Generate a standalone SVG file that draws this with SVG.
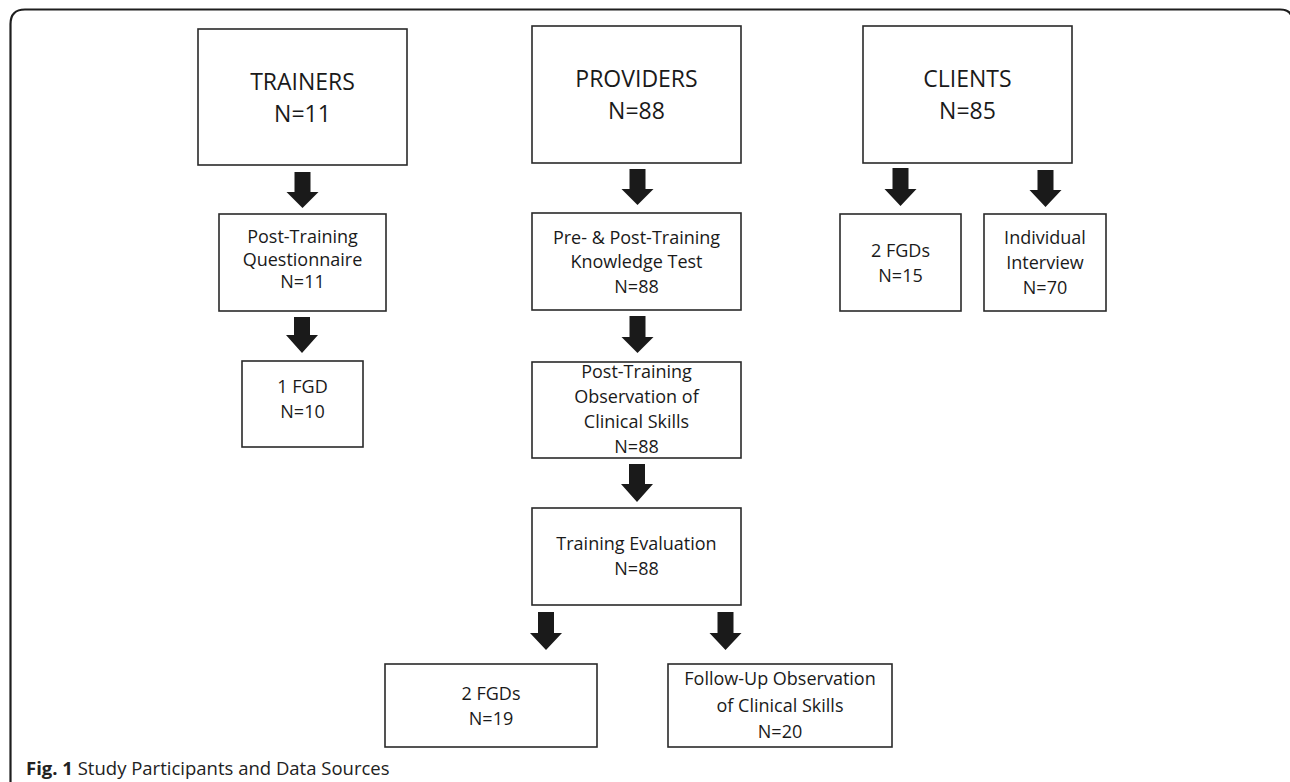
<svg xmlns="http://www.w3.org/2000/svg" width="1290" height="782" viewBox="0 0 1290 782">
<style>
.frame{fill:none;stroke:#1e1e1e;stroke-width:2.2}
.box{fill:#fff;stroke:#2a2a2a;stroke-width:1.6}
.big{font-family:"Open Sans","Liberation Sans",sans-serif;font-size:23px;fill:#1a1a1a;text-anchor:middle}
.sm{font-family:"Open Sans","Liberation Sans",sans-serif;font-size:18px;fill:#1a1a1a;text-anchor:middle}
.arr{fill:#1a1a1a}
.cap{font-family:"Open Sans","Liberation Sans",sans-serif;font-size:18.5px;fill:#222}
</style>
<rect width="1290" height="782" fill="#fff"/>
<path class="frame" d="M10.5 782 V24 Q10.5 9.5 25 9.5 H1280 Q1292 9.5 1292 20"/>

<g id="connectors">
<polygon class="arr" points="294.5,172 310.5,172 310.5,192 318.5,192 302.5,208 286.5,192 294.5,192"/>
<polygon class="arr" points="294,317 310,317 310,335 318,335 302,353 286,335 294,335"/>
<polygon class="arr" points="629.5,169 645.5,169 645.5,189 653.5,189 637.5,205 621.5,189 629.5,189"/>
<polygon class="arr" points="629.5,316 645.5,316 645.5,337 653.5,337 637.5,353 621.5,337 629.5,337"/>
<polygon class="arr" points="629,464 645,464 645,484 653,484 637,502 621,484 629,484"/>
<polygon class="arr" points="538,612 554,612 554,633 562,633 546,650 530,633 538,633"/>
<polygon class="arr" points="717.5,612 733.5,612 733.5,633 741.5,633 725.5,650 709.5,633 717.5,633"/>
<polygon class="arr" points="892.5,168 908.5,168 908.5,189 916.5,189 900.5,206 884.5,189 892.5,189"/>
<polygon class="arr" points="1037.5,170 1053.5,170 1053.5,190 1061.5,190 1045.5,207 1029.5,190 1037.5,190"/>
</g>

<g id="trainers">
<rect class="box" x="198" y="29" width="209" height="136"/>
<text class="big" x="302.5" y="90">TRAINERS</text>
<text class="big" x="302.5" y="122">N=11</text>
</g>
<g id="questionnaire">
<rect class="box" x="219" y="214" width="167" height="97"/>
<text class="sm" x="302.5" y="243">Post-Training</text>
<text class="sm" x="302.5" y="266">Questionnaire</text>
<text class="sm" x="302.5" y="288">N=11</text>
</g>
<g id="fgd1">
<rect class="box" x="242" y="361" width="121" height="86"/>
<text class="sm" x="302.5" y="393">1 FGD</text>
<text class="sm" x="302.5" y="418">N=10</text>
</g>

<g id="providers">
<rect class="box" x="532" y="26" width="209" height="137"/>
<text class="big" x="636.5" y="87">PROVIDERS</text>
<text class="big" x="636.5" y="119">N=88</text>
</g>
<g id="knowledge">
<rect class="box" x="532" y="213" width="209" height="97"/>
<text class="sm" x="636.5" y="244">Pre- &amp; Post-Training</text>
<text class="sm" x="636.5" y="268">Knowledge Test</text>
<text class="sm" x="636.5" y="293">N=88</text>
</g>
<g id="observation">
<rect class="box" x="532" y="362" width="209" height="96"/>
<text class="sm" x="636.5" y="378">Post-Training</text>
<text class="sm" x="636.5" y="403">Observation of</text>
<text class="sm" x="636.5" y="428">Clinical Skills</text>
<text class="sm" x="636.5" y="453">N=88</text>
</g>
<g id="evaluation">
<rect class="box" x="532" y="508" width="209" height="97"/>
<text class="sm" x="636.5" y="550">Training Evaluation</text>
<text class="sm" x="636.5" y="575">N=88</text>
</g>
<g id="fgd2">
<rect class="box" x="385" y="664" width="212" height="83"/>
<text class="sm" x="491" y="700">2 FGDs</text>
<text class="sm" x="491" y="725">N=19</text>
</g>
<g id="followup">
<rect class="box" x="668" y="664" width="224" height="83"/>
<text class="sm" x="780" y="685">Follow-Up Observation</text>
<text class="sm" x="780" y="712">of Clinical Skills</text>
<text class="sm" x="780" y="738">N=20</text>
</g>

<g id="clients">
<rect class="box" x="863" y="26" width="209" height="137"/>
<text class="big" x="967.5" y="87">CLIENTS</text>
<text class="big" x="967.5" y="119">N=85</text>
</g>
<g id="fgd3">
<rect class="box" x="840" y="214" width="121" height="97"/>
<text class="sm" x="900.5" y="257">2 FGDs</text>
<text class="sm" x="900.5" y="282">N=15</text>
</g>
<g id="interview">
<rect class="box" x="984" y="214" width="122" height="97"/>
<text class="sm" x="1045" y="244">Individual</text>
<text class="sm" x="1045" y="269">Interview</text>
<text class="sm" x="1045" y="294">N=70</text>
</g>

<text class="cap" x="26" y="775"><tspan font-weight="bold">Fig. 1</tspan> Study Participants and Data Sources</text>
</svg>
